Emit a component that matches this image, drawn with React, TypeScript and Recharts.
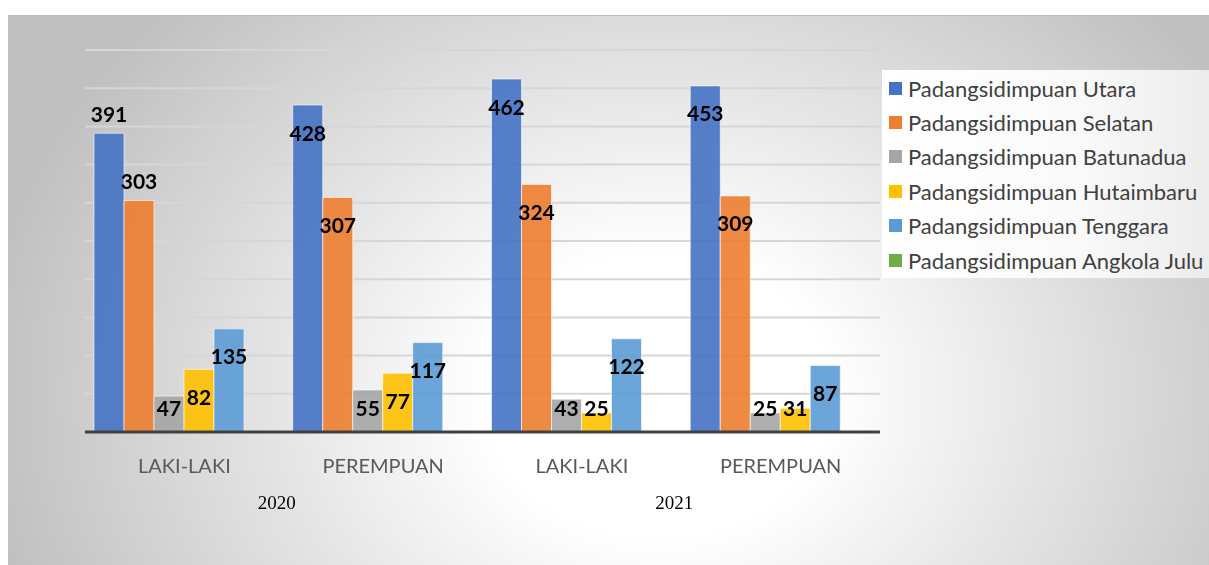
import { BarChart, Bar, XAxis, YAxis, CartesianGrid, Legend, LabelList } from 'recharts';

const categories = ['LAKI-LAKI', 'PEREMPUAN', 'LAKI-LAKI', 'PEREMPUAN'];
const years = ['2020', '2020', '2021', '2021'];
const utara = [391, 428, 462, 453];
const selatan = [303, 307, 324, 309];
const batunadua = [47, 55, 43, 25];
const hutaimbaru = [82, 77, 25, 31];
const tenggara = [135, 117, 122, 87];
const angkolaJulu = [0, 0, 0, 0];
const yTicks = [0, 50, 100, 150, 200, 250, 300, 350, 400, 450, 500];

const series = [
  { key: 'utara', name: 'Padangsidimpuan Utara', color: '#4472C4', values: utara },
  { key: 'selatan', name: 'Padangsidimpuan Selatan', color: '#ED7D31', values: selatan },
  { key: 'batunadua', name: 'Padangsidimpuan Batunadua', color: '#A5A5A5', values: batunadua },
  { key: 'hutaimbaru', name: 'Padangsidimpuan Hutaimbaru', color: '#FFC000', values: hutaimbaru },
  { key: 'tenggara', name: 'Padangsidimpuan Tenggara', color: '#5B9BD5', values: tenggara },
  { key: 'angkola', name: 'Padangsidimpuan Angkola Julu', color: '#70AD47', values: angkolaJulu },
];

const data = categories.map((cat, i) => {
  const row: Record<string, string | number> = { cat, year: years[i] };
  series.forEach((s) => (row[s.key] = s.values[i]));
  return row;
});

const FONT = 'Lato, "Open Sans", sans-serif';

// excel-style labels: inside end, but never below the floor; first group's tall bars sit above
const makeLabel = (seriesIdx: number) => (props: any) => {
  const { x, y, width, height, value, index } = props;
  let cy = Math.min(y + 27, y + height - 25);
  if (index === 0 && seriesIdx < 2) cy = y - 20;
  return (
    <text
      x={x + width / 2}
      y={cy}
      textAnchor="middle"
      dominantBaseline="central"
      fontFamily={FONT}
      fontWeight={700}
      fontSize={21}
      fill="#000"
    >
      {value}
    </text>
  );
};

const CatTick = (props: any) => {
  const { x, y, payload } = props;
  return (
    <text x={x} y={y + 33} textAnchor="middle" dominantBaseline="central" fontFamily={FONT} fontSize={20} fill="#595959">
      {payload.value}
    </text>
  );
};

const YearTick = (props: any) => {
  const { x, y, payload } = props;
  return (
    <text x={x - 7} y={y + 30} textAnchor="middle" dominantBaseline="central" fontFamily='"Liberation Serif", "Times New Roman", serif' fontSize={19} fill="#000">
      {payload.value}
    </text>
  );
};

const LegendBox = () => (
  <div style={{ paddingTop: 1 }}>
    {series.map((s) => (
      <div key={s.key} style={{ height: 34.4, display: 'flex', alignItems: 'center', fontFamily: FONT, fontSize: 22, color: '#404040' }}>
        <span style={{ width: 13, height: 13, background: s.color, marginLeft: 7, marginRight: 6, display: 'inline-block', flexShrink: 0 }} />
        <span style={{ whiteSpace: 'nowrap' }}>{s.name}</span>
      </div>
    ))}
  </div>
);

export default function App() {
  return (
    <div
      style={{
        position: 'fixed',
        left: 8,
        top: 15,
        right: 0,
        bottom: 0,
        borderTop: '1px solid #bdbdbd',
        overflow: 'hidden',
        background: 'radial-gradient(ellipse 680px 560px at 650px 380px, #ffffff 0%, #ffffff 25%, #c0c0c0 100%)',
      }}
    >
      <BarChart
        width={1201}
        height={549}
        data={data}
        margin={{ top: 34, right: 2, bottom: 53, left: 77 }}
        barCategoryGap={9}
        barGap={0}
      >
        <CartesianGrid vertical={false} stroke="#d6d6d6" strokeWidth={2} />
        <YAxis hide domain={[0, 500]} ticks={yTicks} />
        <XAxis
          dataKey="cat"
          height={40}
          tickSize={0}
          tickMargin={0}
          tick={<CatTick />}
          axisLine={{ stroke: '#404040', strokeWidth: 3 }}
          tickLine={false}
        />
        <XAxis
          xAxisId="year"
          dataKey="year"
          allowDuplicatedCategory={false}
          height={40}
          tickSize={0}
          tickMargin={0}
          tick={<YearTick />}
          axisLine={false}
          tickLine={false}
        />
        <Legend
          layout="vertical"
          align="right"
          verticalAlign="top"
          content={<LegendBox />}
          wrapperStyle={{
            left: 874,
            top: 54,
            width: 327,
            height: 208,
            background: 'linear-gradient(90deg, #ffffff 0%, #fafafa 60%, #ececec 100%)',
          }}
        />
        {series.map((s, i) => (
          <Bar
            key={s.key}
            dataKey={s.key}
            name={s.name}
            fill={s.color}
            fillOpacity={0.9}
            stroke="#ffffff"
            strokeOpacity={0.6}
            strokeWidth={1}
            isAnimationActive={false}
          >
            <LabelList dataKey={s.key} content={makeLabel(i)} />
          </Bar>
        ))}
      </BarChart>
    </div>
  );
}
